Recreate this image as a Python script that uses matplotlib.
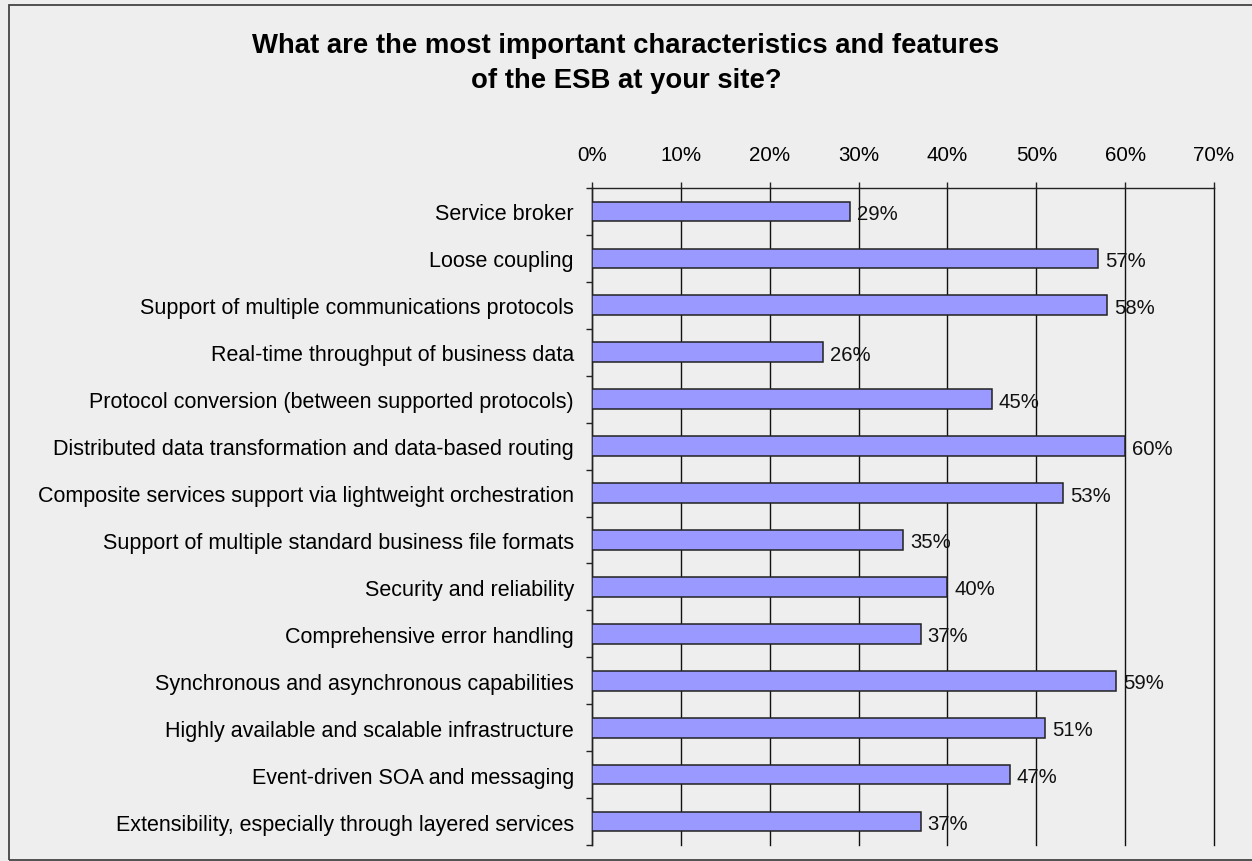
import matplotlib.pyplot as plt
from matplotlib.patches import Rectangle
from matplotlib.ticker import FixedLocator, FuncFormatter

plt.rcParams['font.family'] = ['Liberation Sans', 'DejaVu Sans']

features = [
    "Service broker",
    "Loose coupling",
    "Support of multiple communications protocols",
    "Real-time throughput of business data",
    "Protocol conversion (between supported protocols)",
    "Distributed data transformation and data-based routing",
    "Composite services support via lightweight orchestration",
    "Support of multiple standard business file formats",
    "Security and reliability",
    "Comprehensive error handling",
    "Synchronous and asynchronous capabilities",
    "Highly available and scalable infrastructure",
    "Event-driven SOA and messaging",
    "Extensibility, especially through layered services",
]
shares = [29, 57, 58, 26, 45, 60, 53, 35, 40, 37, 59, 51, 47, 37]
xticks = [0, 10, 20, 30, 40, 50, 60, 70]

bg = '#eeeeee'
fig = plt.figure(figsize=(12.52, 8.62), dpi=100, facecolor=bg)

# chart frame (runs off the right edge)
fig.patches.append(Rectangle((8.5 / 1252, 1 / 862), 1.2, 855 / 862,
                             transform=fig.transFigure, fill=False,
                             edgecolor='#444444', lw=1.3, zorder=0))

ax = fig.add_axes([592 / 1252, 16 / 862, 622 / 1252, 657 / 862])
ax.set_facecolor(bg)

pos = list(range(len(features)))
ax.barh(pos, shares, height=0.42, color='#9999ff', edgecolor='#222222',
        lw=1.1, zorder=3)
for p, v in zip(pos, shares):
    ax.annotate(f"{v}%", (v, p), xytext=(5, -5.4), textcoords='offset points',
                ha='left', va='baseline', fontsize=14.6, color='#111111', zorder=4)

ax.set_xlim(0, 70)
ax.set_ylim(len(features) - 0.5, -0.5)

ax.xaxis.set_major_locator(FixedLocator(xticks))
ax.xaxis.set_major_formatter(FuncFormatter(lambda x, _: f"{x:.0f}%"))
ax.xaxis.tick_top()
ax.tick_params(axis='x', which='major', direction='out', length=4.5, width=1,
               pad=13, labelsize=14.8, color='#222222')
ax.grid(axis='x', color='#111111', lw=1, zorder=1)
for gl in ax.get_xgridlines():
    gl.set_clip_on(False)

ax.set_yticks(pos)
ax.set_yticklabels(features)
ax.yaxis.set_minor_locator(FixedLocator([i - 0.5 for i in range(len(features) + 1)]))
ax.tick_params(axis='y', which='major', length=0, pad=13, labelsize=15.5)
ax.tick_params(axis='y', which='minor', direction='out', length=4.5, width=1,
               color='#222222')

for side in ('right', 'bottom'):
    ax.spines[side].set_visible(False)
for side in ('left', 'top'):
    ax.spines[side].set_color('#222222')
    ax.spines[side].set_linewidth(1)

fig.text(0.5, 1 - 46 / 862, "What are the most important characteristics and features",
         ha='center', va='center', fontsize=19.8, fontweight='bold')
fig.text(0.5, 1 - 81 / 862, "of the ESB at your site?",
         ha='center', va='center', fontsize=19.8, fontweight='bold')

fig.savefig('out.png', dpi=100, facecolor=bg)
